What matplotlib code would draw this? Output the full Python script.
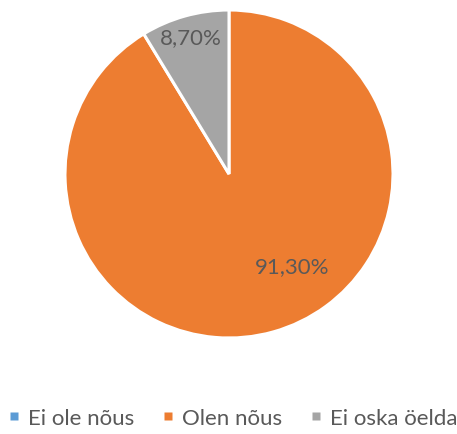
import numpy as np
import matplotlib.pyplot as plt
from matplotlib.lines import Line2D

plt.rcParams['font.family'] = ['Lato', 'DejaVu Sans']

categories = ['Ei ole nõus', 'Olen nõus', 'Ei oska öelda']
values = [0.0, 91.30, 8.70]
colors = ['#5B9BD5', '#ED7D31', '#A5A5A5']
text_color = '#595959'

W, H = 457, 435
fig = plt.figure(figsize=(W / 100, H / 100), dpi=100)
cx, cy, r = 229, 175, 164
ax = fig.add_axes([(cx - r) / W, (H - cy - r) / H, 2 * r / W, 2 * r / H])

wedges, _ = ax.pie(values, colors=colors, startangle=90, counterclock=False,
                   radius=1, wedgeprops=dict(edgecolor='white', linewidth=2.2))
ax.set_xlim(-1, 1)
ax.set_ylim(-1, 1)
ax.set_aspect('equal')
ax.axis('off')

# data labels (Excel-like placement)
label_pos = {1: (0.385, -0.56), 2: None}
for i, (w, v) in enumerate(zip(wedges, values)):
    if v == 0:
        continue
    if label_pos.get(i) is None:
        ang = np.deg2rad((w.theta1 + w.theta2) / 2)
        x, y = 0.87 * np.cos(ang), 0.87 * np.sin(ang)
    else:
        x, y = label_pos[i]
    ax.text(x, y, f'{v:.2f}%'.replace('.', ','), ha='center', va='center',
            fontsize=16, color=text_color)

handles = [Line2D([], [], linestyle='none', marker='s', markersize=5.5,
                  markerfacecolor=c, markeredgecolor='none') for c in colors]
fig.legend(handles, categories, loc='center', bbox_to_anchor=(0.51, 1 - 419 / H),
           ncol=3, frameon=False, fontsize=16, labelcolor=text_color,
           handlelength=0.5, handletextpad=0.35, columnspacing=1.3,
           borderpad=0, borderaxespad=0)

fig.savefig('out.png', dpi=100)
